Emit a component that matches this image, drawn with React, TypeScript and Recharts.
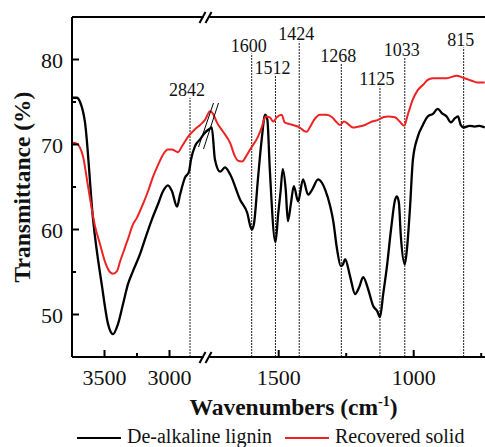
import React from 'react';
import { LineChart, Line, XAxis, YAxis, ReferenceLine, Legend } from 'recharts';

const FONT = '"Liberation Serif", "Times New Roman", serif';

// [wavenumber (cm-1), transmittance (%)]
const LIGNIN: [number, number][] = [
  [3750, 75.5], [3712, 75.5], [3688, 75.0], [3650, 72.6], [3588, 61.2], [3519, 53.3],
  [3473, 48.9], [3435, 47.7], [3396, 48.9], [3358, 51.2], [3319, 53.6], [3281, 55.1],
  [3227, 57.1], [3181, 59.2], [3135, 61.2], [3088, 63.0], [3050, 64.5], [3012, 65.2],
  [2981, 64.5], [2942, 62.7], [2919, 64.1], [2881, 66.1], [2850, 66.8], [2835, 68.2],
  [2804, 69.8], [2765, 70.6], [2727, 71.4],
  [1758, 71.8], [1748, 72.0], [1736, 68.2], [1717, 66.8], [1699, 67.3], [1680, 66.5],
  [1643, 63.5], [1617, 62.0], [1600, 60.0], [1592, 60.6], [1577, 65.9], [1563, 70.6],
  [1550, 73.5], [1542, 72.9], [1533, 67.1], [1512, 58.5], [1502, 61.8], [1493, 64.5],
  [1485, 67.1], [1474, 64.7], [1466, 61.0], [1455, 63.0], [1444, 65.1], [1428, 63.3],
  [1410, 65.9], [1391, 64.1], [1376, 64.7], [1354, 65.9], [1340, 65.5], [1328, 64.7],
  [1309, 62.7], [1298, 61.0], [1284, 57.7], [1270, 55.7], [1262, 55.9], [1254, 56.5],
  [1235, 54.4], [1217, 52.4], [1202, 53.2], [1187, 54.4], [1169, 53.0], [1150, 51.0],
  [1135, 50.4], [1125, 49.7], [1113, 52.4], [1099, 55.7], [1084, 60.0], [1069, 63.5],
  [1062, 63.9], [1055, 63.2], [1048, 59.4], [1033, 55.9], [1025, 57.7], [1014, 62.4],
  [1003, 68.2], [985, 70.9], [966, 72.3], [948, 73.3], [929, 73.6], [911, 74.2],
  [896, 73.7], [878, 73.3], [862, 72.6], [847, 73.1], [836, 73.3], [826, 72.3],
  [815, 72.0], [793, 72.2], [774, 72.1], [756, 72.2], [737, 72.0],
];

const SOLID: [number, number][] = [
  [3750, 70.2], [3712, 70.1], [3688, 69.6], [3665, 68.6], [3627, 65.1], [3573, 60.4],
  [3535, 58.3], [3496, 56.2], [3458, 55.0], [3435, 54.8], [3404, 55.1], [3381, 56.2],
  [3342, 57.9], [3319, 58.9], [3281, 60.6], [3250, 61.4], [3204, 63.0], [3165, 64.5],
  [3127, 66.2], [3088, 67.6], [3050, 68.8], [3012, 69.4], [2981, 69.4], [2950, 69.2],
  [2935, 69.1], [2904, 69.8], [2858, 70.9], [2804, 71.8], [2765, 72.3], [2727, 72.9],
  [1754, 73.9], [1743, 73.6], [1729, 72.6], [1706, 71.5], [1680, 70.2], [1662, 68.6],
  [1651, 68.1], [1636, 68.0], [1621, 68.6], [1606, 69.4], [1577, 70.9], [1563, 72.0],
  [1548, 73.3], [1533, 73.2], [1520, 72.7], [1507, 73.2], [1489, 73.5], [1478, 72.6],
  [1459, 72.4], [1448, 72.3], [1422, 72.0], [1407, 71.6], [1396, 71.5], [1385, 72.0],
  [1369, 72.9], [1347, 73.5], [1325, 73.5], [1302, 73.2], [1288, 72.7], [1273, 72.3],
  [1258, 72.7], [1243, 72.4], [1225, 72.0], [1206, 72.1], [1180, 72.3], [1154, 72.7],
  [1132, 72.9], [1113, 73.2], [1095, 73.3], [1069, 73.2], [1052, 72.7], [1035, 72.2],
  [1022, 73.5], [1003, 75.3], [985, 76.4], [966, 77.0], [948, 77.6], [929, 77.8],
  [903, 77.8], [878, 77.8], [840, 78.1], [821, 77.9], [803, 77.7], [785, 77.5],
  [766, 77.3], [737, 77.3],
];

// assigned bands: [wavenumber, top of the guide line (%)]
const BANDS: [number, number][] = [
  [2842, 75.5], [1600, 80.7], [1512, 78.1], [1424, 82.1],
  [1268, 79.5], [1125, 76.8], [1033, 80.2], [815, 81.4],
];

const X_MAJOR = [3500, 3000, 1500, 1000];
const X_MINOR = [3250, 1250, 750];
const Y_TICKS = [50, 55, 60, 65, 70, 75, 80];

// broken x axis: 3750-2700 squeezed, 1760-735 stretched
const BREAK_U = 136.5;
const U_MAX = 413;
const toU = (w: number) => (w >= 2000 ? (3750 - w) * 0.13 : BREAK_U + (1760 - w) * 0.27);

const PLOT_LEFT = 72;
const PLOT_TOP = 17;
const PLOT_BOTTOM = 357;

const ligninData = LIGNIN.map(([w, t]) => ({ u: toU(w), t }));
const solidData = SOLID.map(([w, t]) => ({ u: toU(w), t }));
const xTicks = [...X_MAJOR, ...X_MINOR].map(toU).sort((a, b) => a - b);

function XTick(props: any) {
  const { x, y, payload } = props;
  const major = X_MAJOR.find((w) => Math.abs(toU(w) - payload.value) < 0.01);
  return (
    <g>
      <line x1={x} x2={x} y1={y} y2={y - (major ? 7 : 4)} stroke="#000" strokeWidth={2} />
      {major && (
        <text x={x} y={y + 28} textAnchor="middle" style={{ fontFamily: FONT }} fontSize={22} fill="#111">
          {major}
        </text>
      )}
    </g>
  );
}

function YTick(props: any) {
  const { x, y, payload } = props;
  const major = payload.value % 10 === 0;
  return (
    <g>
      <line x1={x} x2={x + (major ? 7 : 4)} y1={y} y2={y} stroke="#000" strokeWidth={2} />
      {major && (
        <text x={x - 9} y={y + 8} textAnchor="end" style={{ fontFamily: FONT }} fontSize={22} fill="#111">
          {payload.value}
        </text>
      )}
    </g>
  );
}

const bandLabel = (w: number) => (p: any) => {
  const vb = p.viewBox ?? p;
  return (
    <text x={vb.x - 3} y={vb.y - 2} textAnchor="middle" style={{ fontFamily: FONT }} fontSize={18} fill="#111">
      {w}
    </text>
  );
};

const LEGEND_X = [77, 285];

function renderLegend(props: any) {
  const items = props.payload ?? [];
  return (
    <svg width={485} height={24}>
      {items.map((it: any, i: number) => (
        <g key={it.value}>
          <line x1={LEGEND_X[i]} x2={LEGEND_X[i] + 44} y1={13} y2={13} stroke={it.color} strokeWidth={2} />
          <text x={LEGEND_X[i] + 50} y={18} style={{ fontFamily: FONT }} fontSize={20} fill="#111">
            {it.value}
          </text>
        </g>
      ))}
    </svg>
  );
}

export default function App() {
  const bx = PLOT_LEFT + BREAK_U - 2;
  return (
    <div style={{ position: 'absolute', left: 0, top: 0, width: 485, height: 447, background: '#fff' }}>
      <LineChart width={485} height={447} margin={{ top: PLOT_TOP, right: 0, bottom: 0, left: 0 }}>
        <XAxis
          dataKey="u"
          type="number"
          domain={[0, U_MAX]}
          ticks={xTicks}
          interval={0}
          height={90}
          tickSize={0}
          tickMargin={0}
          tickLine={false}
          tick={<XTick />}
          axisLine={{ stroke: '#000', strokeWidth: 2 }}
          label={{
            content: (p: any) => {
              const vb = p.viewBox;
              return (
                <text
                  x={vb.x + vb.width / 2 + 15}
                  y={vb.y + 58}
                  textAnchor="middle"
                  style={{ fontFamily: FONT }}
                  fontSize={23.5}
                  fontWeight="bold"
                  fill="#111"
                >
                  <tspan>Wavenumbers (cm</tspan>
                  <tspan dy={-9} fontSize={14}>-1</tspan>
                  <tspan dy={9}>)</tspan>
                </text>
              );
            },
          }}
        />
        <YAxis
          type="number"
          domain={[45, 85]}
          ticks={Y_TICKS}
          interval={0}
          width={PLOT_LEFT}
          tickSize={0}
          tickMargin={0}
          tickLine={false}
          tick={<YTick />}
          axisLine={{ stroke: '#000', strokeWidth: 2 }}
          label={{
            content: (p: any) => {
              const vb = p.viewBox;
              const cy = vb.y + vb.height / 2;
              return (
                <text
                  x={30}
                  y={cy}
                  transform={`rotate(-90, 30, ${cy})`}
                  textAnchor="middle"
                  style={{ fontFamily: FONT }}
                  fontSize={23.5}
                  fontWeight="bold"
                  fill="#111"
                >
                  Transmittance (%)
                </text>
              );
            },
          }}
        />
        <ReferenceLine y={85} stroke="#000" strokeWidth={2} />
        {BANDS.map(([w, top]) => (
          <ReferenceLine
            key={w}
            segment={[{ x: toU(w), y: 45 }, { x: toU(w), y: top }]}
            stroke="#222"
            strokeWidth={1}
            strokeDasharray="2 1"
            label={bandLabel(w)}
          />
        ))}
        <Line
          data={ligninData}
          dataKey="t"
          name="De-alkaline lignin"
          type="monotone"
          stroke="#000"
          strokeWidth={2.3}
          dot={false}
          activeDot={false}
          isAnimationActive={false}
        />
        <Line
          data={solidData}
          dataKey="t"
          name="Recovered solid"
          type="monotone"
          stroke="#ee2222"
          strokeWidth={2}
          dot={false}
          activeDot={false}
          isAnimationActive={false}
        />
        <Legend
          layout="horizontal"
          verticalAlign="middle"
          align="center"
          content={renderLegend}
          wrapperStyle={{ left: 0, top: 425, width: 485 }}
        />
      </LineChart>
      {/* axis break marks */}
      <svg
        width={485}
        height={447}
        style={{ position: 'absolute', left: 0, top: 0, pointerEvents: 'none' }}
      >
        {[PLOT_TOP, PLOT_BOTTOM].map((ay) => (
          <g key={ay}>
            <rect x={bx - 3} y={ay - 3} width={6} height={6} fill="#fff" />
            <line x1={bx - 7} y1={ay + 6} x2={bx - 1} y2={ay - 5} stroke="#000" strokeWidth={2} />
            <line x1={bx - 1} y1={ay + 6} x2={bx + 5} y2={ay - 5} stroke="#000" strokeWidth={2} />
          </g>
        ))}
        <line x1={bx - 8} y1={147} x2={bx + 7} y2={103} stroke="#000" strokeWidth={1} />
        <line x1={bx - 3} y1={149} x2={bx + 12} y2={103} stroke="#000" strokeWidth={1} />
      </svg>
    </div>
  );
}
